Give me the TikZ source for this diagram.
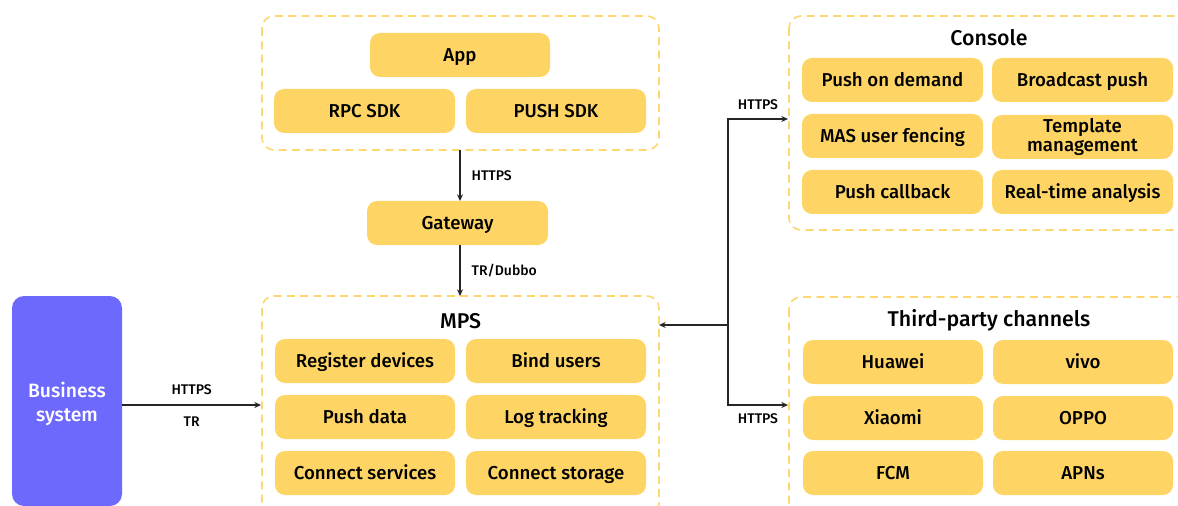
\documentclass[tikz,border=0pt]{standalone}
\usepackage{fontspec}
\setmainfont{Fira Sans}[BoldFont={Fira Sans Medium}]
\usetikzlibrary{arrows.meta}
\definecolor{cellyellow}{HTML}{FED565}
\definecolor{framey}{HTML}{FDD872}
\definecolor{bizpurple}{HTML}{6D69FD}
\tikzset{
  cell/.style={fill=cellyellow, rounded corners=7.5pt, inner sep=0pt,
    font=\bfseries\fontsize{14}{13.5}\selectfont, align=center,
    text height=11.4pt, text depth=1.2pt},
  frame/.style={draw=framey, line width=1.3pt, dash pattern=on 6pt off 4pt,
    rounded corners=9pt},
  ttl/.style={font=\bfseries\fontsize{16}{18}\selectfont},
  lbl/.style={font=\bfseries\fontsize{10.5}{12}\selectfont},
  conn/.style={draw=black!85, line width=0.8pt, -{Stealth[length=5pt,width=4.5pt]}},
}
\newcommand{\cellat}[5]{% name, x1, y1, x2, y2, text follows
  \node[cell, minimum width={(#4-#2)*0.75pt}, minimum height={(#5-#3)*0.75pt}]
    (#1) at ({(#2+#4)/2},{(#3+#5)/2})}
\begin{document}
\begin{tikzpicture}[x=0.75pt,y=-0.75pt]
\useasboundingbox (0,0) rectangle (1178,506);

% client side frame
\draw[frame] (262,16) rectangle (659,150);
\coordinate (clientS) at (460,150);
\cellat{app}{370}{33}{550}{77} {App};
\cellat{rpc}{274}{89}{455}{133} {RPC SDK};
\cellat{pushsdk}{466}{89}{646}{133} {PUSH SDK};

% gateway
\cellat{gw}{367}{201}{548}{245} {Gateway};
\coordinate (gwN) at (460,201);
\coordinate (gwS) at (460,245);

% MPS frame
\draw[frame] (262,296) rectangle (659,516);
\coordinate (mpsN) at (460,296);
\coordinate (mpsE) at (659,325);
\coordinate (mpsW) at (261,405);
\node[ttl] (mps) at (460.5,321) {MPS};
\cellat{reg}{275}{339}{455}{383} {Register devices};
\cellat{bind}{466}{339}{646}{383} {Bind users};
\cellat{pdata}{275}{395}{455}{439} {Push data};
\cellat{logt}{466}{395}{646}{439} {Log tracking};
\cellat{csvc}{275}{451}{455}{495} {Connect services};
\cellat{cstore}{466}{451}{646}{495} {Connect storage};

% business system
\node[fill=bizpurple, rounded corners=9pt, minimum width={110*0.75pt},
  minimum height={210*0.75pt}] (biz) at (67,401) {};
\node[text=white, align=center, font=\bfseries\fontsize{14.5}{18}\selectfont]
  (bizlabel) at (67,404) {Business\\system};

% console frame
\draw[frame] (789,16) rectangle (1195,230);
\coordinate (conW) at (788,119);
\node[ttl] (console) at (989,38) {Console};
\cellat{pod}{802}{58}{983}{102} {Push on demand};
\cellat{bcast}{992}{58}{1173}{102} {Broadcast push};
\cellat{fence}{802}{114}{983}{158} {MAS user fencing};
\node[cell, text height=, text depth=, minimum width={181*0.75pt},
  minimum height={44*0.75pt}] (tmpl) at (1082.5,137)
  {Template\\[0.5pt]management};
\cellat{cb}{802}{170}{983}{214} {Push callback};
\cellat{rta}{992}{170}{1173}{214} {Real-time analysis};

% third-party frame
\draw[frame] (789,297) rectangle (1195,516);
\coordinate (tpW) at (788,405);
\node[ttl] (third) at (989,320) {Third-party channels};
\cellat{hw}{803}{340}{983}{384} {Huawei};
\cellat{vivo}{993}{340}{1173}{384} {vivo};
\cellat{xm}{803}{396}{983}{440} {Xiaomi};
\cellat{oppo}{993}{396}{1173}{440} {OPPO};
\cellat{fcm}{803}{451}{983}{495} {FCM};
\cellat{apns}{993}{451}{1173}{495} {APNs};

% connectors
\draw[conn] (clientS) -- (gwN)
  node[lbl, pos=0.5, right=5pt] {HTTPS};
\draw[conn] (gwS) -- (mpsN)
  node[lbl, pos=0.5, right=5pt] {TR/Dubbo};
\draw[conn] (biz.east |- mpsW) -- (mpsW)
  node[lbl, pos=0.5, above=4pt] {HTTPS}
  node[lbl, pos=0.5, below=5pt] {TR};
\coordinate (hub) at (728,325);
\draw[conn] (hub) -- (mpsE);
\draw[conn] (hub) |- (conW)
  node[lbl, pos=0.75, above=3pt] {HTTPS};
\draw[conn] (hub) |- (tpW)
  node[lbl, pos=0.75, below=3pt] {HTTPS};
\end{tikzpicture}
\end{document}
